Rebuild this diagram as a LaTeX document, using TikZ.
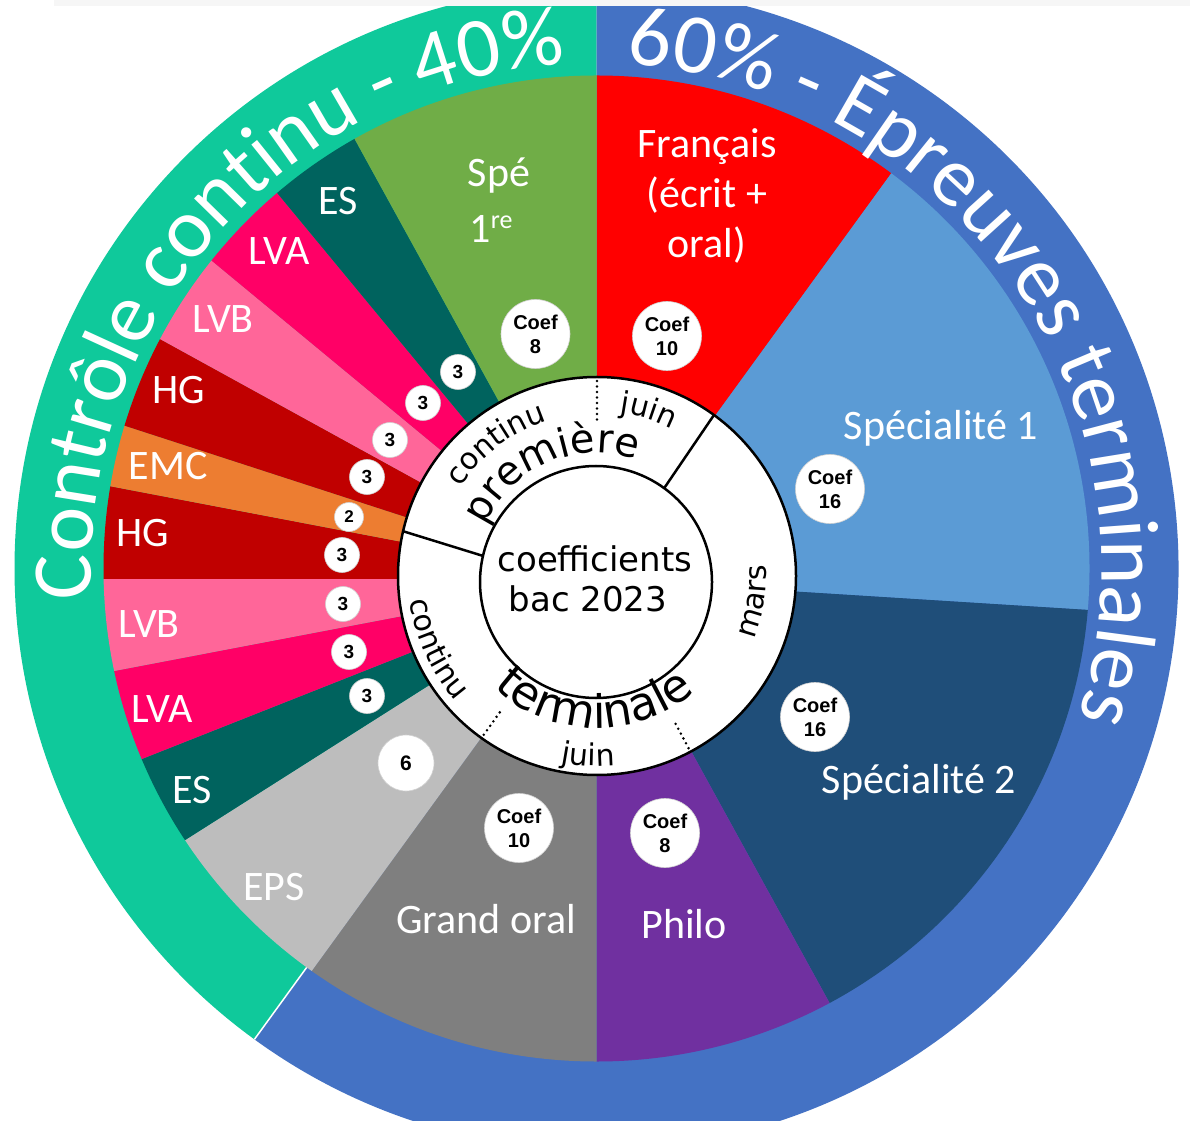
\documentclass[tikz,border=0pt]{standalone}
\usepackage{fontspec}
\setmainfont{Carlito}
\newfontfamily\dvfont{DejaVu Sans}
\newfontfamily\arialfont{Liberation Sans}
\usetikzlibrary{calc,decorations.text}
\definecolor{ringgreen}{HTML}{0FC99B}
\definecolor{ringblue}{HTML}{4472C4}
\definecolor{cFr}{HTML}{FF0000}
\definecolor{cSpA}{HTML}{5B9BD5}
\definecolor{cSpB}{HTML}{1F4E79}
\definecolor{cPhi}{HTML}{7030A0}
\definecolor{cGO}{HTML}{7F7F7F}
\definecolor{cEPS}{HTML}{BDBDBD}
\definecolor{cES}{HTML}{00635E}
\definecolor{cLVA}{HTML}{FF0066}
\definecolor{cLVB}{HTML}{FF6699}
\definecolor{cHG}{HTML}{C00000}
\definecolor{cEMC}{HTML}{ED7D31}
\definecolor{cSpe}{HTML}{70AD47}
\newcommand\mywedge[3]{\fill[#1] (A) -- ($(A)+(#2:800)$) arc[start angle=#2,end angle=#3,radius=800] -- cycle;}
\newcommand\ringfont{\fontsize{85}{85}\selectfont\color{white}}
\newcommand\smallarc{\dvfont\fontsize{30}{30}\selectfont}
\tikzset{
  lab/.style={text=white, font=\fontsize{42}{50}\selectfont, anchor=base, inner sep=0pt},
  coef/.style={circle, fill=white, draw=gray!35, line width=0.6pt, minimum size=69pt, inner sep=0pt, align=center, font=\arialfont\bfseries\fontsize{20}{24}\selectfont},
  num/.style={circle, fill=white, draw=gray!35, line width=0.6pt, minimum size=35pt, inner sep=0pt, font=\arialfont\bfseries\fontsize{19}{19}\selectfont},
  ringline/.style={line width=2.5pt},
  dotline/.style={line width=2.8pt, line cap=round, dash pattern=on 0pt off 5.5pt},
  centertext/.style={text=black, font=\dvfont\fontsize{34}{40}\selectfont, anchor=base, inner sep=0pt}
}
\begin{document}
\begin{tikzpicture}[x=1pt,y=1pt]
\useasboundingbox (0,0) rectangle (1190,1120);
\clip (0,0) rectangle (1190,1120);
\fill[white] (0,0) rectangle (1190,1120);

\coordinate (O) at (596.5,551.5);
\coordinate (A) at (596.5,541);
\coordinate (W) at (597,544);
\coordinate (I) at (596,538);

% outer ring
\fill[ringgreen] (O) -- ++(90:582) arc[start angle=90,end angle=234,radius=582] -- cycle;
\fill[ringblue] (O) -- ++(234:582) arc[start angle=234,end angle=450,radius=582] -- cycle;
\draw[white, line width=1.5pt] ($(O)+(234:493)$) -- ($(O)+(234:582)$);

% pie wedges
\begin{scope}
\clip (O) circle[radius=493];
\mywedge{cFr}{90}{54}
\mywedge{cSpA}{54}{-3.6}
\mywedge{cSpB}{-3.6}{-61.2}
\mywedge{cPhi}{-61.2}{-90}
\mywedge{cGO}{-90}{-126}
\mywedge{cEPS}{-126}{-147.6}
\mywedge{cES}{-147.6}{-158.4}
\mywedge{cLVA}{-158.4}{-169.2}
\mywedge{cLVB}{-169.2}{-180}
\mywedge{cHG}{-180}{-190.8}
\mywedge{cEMC}{-190.8}{-198}
\mywedge{cHG}{-198}{-208.8}
\mywedge{cLVB}{-208.8}{-219.6}
\mywedge{cLVA}{-219.6}{-230.4}
\mywedge{cES}{-230.4}{-241.2}
\mywedge{cSpe}{-241.2}{-270}
\end{scope}

% top strip
\fill[gray!7] (54,1114) rectangle (1190,1120);

% ring texts
\path[decorate, decoration={text along path, text={|\ringfont|Contrôle continu - 40{\%}}, text align=left}]
  ($(O)+(183.5:505)$) arc[start angle=183.5,end angle=40,radius=505];
\path[decorate, decoration={text along path, text={|\ringfont|60{\%} - Épreuves terminales}, text align=left}]
  ($(O)+(86.6:505)$) arc[start angle=86.6,end angle=-60,radius=505];

% wedge labels
\node[lab] (spe) at (499,933) {Spé};
\node[lab] (spe1) at (491,877) {1\raisebox{14pt}{\fontsize{26}{26}\selectfont re}};
\node[lab] (fr1) at (707,962) {Français};
\node[lab] (fr2) at (707,912) {(écrit +};
\node[lab] (fr3) at (707,862) {oral)};
\node[lab] (sp1) at (941,680) {Spécialité 1};
\node[lab] (sp2) at (919,327) {Spécialité 2};
\node[lab] (philo) at (684,182) {Philo};
\node[lab] (go) at (486,187) {Grand oral};
\node[lab] (eps) at (274,220) {EPS};
\node[lab] (es2) at (192,317) {ES};
\node[lab] (lva2) at (162,398) {LVA};
\node[lab] (lvb2) at (149,483) {LVB};
\node[lab] (hg2) at (143,573) {HG};
\node[lab] (emc) at (168,640) {EMC};
\node[lab] (hg1) at (179,716) {HG};
\node[lab] (lvb1) at (223,787) {LVB};
\node[lab] (lva1) at (279,855) {LVA};
\node[lab] (es1) at (338,905) {ES};

% coefficient badges
\node[coef] (kspe) at (535.5,786) {Coef\\8};
\node[coef] (kfr) at (667,784) {Coef\\10};
\node[coef] (ksp1) at (830,631) {Coef\\16};
\node[coef] (ksp2) at (815,403) {Coef\\16};
\node[coef] (kphi) at (665,287) {Coef\\8};
\node[coef] (kgo) at (519,292) {Coef\\10};
\node[num] (kes1) at (458,748) {3};
\node[num] (klva1) at (423,717) {3};
\node[num] (klvb1) at (390,680) {3};
\node[num] (khg1) at (367,643) {3};
\node[num, minimum size=29pt, font=\arialfont\bfseries\fontsize{17}{17}\selectfont] (kemc) at (349,603) {2};
\node[num] (khg2) at (342,565) {3};
\node[num] (klvb2) at (343,516) {3};
\node[num] (klva2) at (349,468) {3};
\node[num] (kes2) at (367,424) {3};
\node[num, minimum size=56pt, font=\arialfont\bfseries\fontsize{21}{21}\selectfont] (keps) at (406,357) {6};

% central rings
\fill[white] (W) circle[radius=199];
\draw[ringline] (W) circle[radius=199];
\draw[ringline] (I) circle[radius=116];
\draw[ringline] ($(W)+(54:199)$) -- ($(I)+(54:116)$);
\draw[ringline] ($(W)+(167:199)$) -- ($(I)+(167:116)$);
\draw[dotline] ($(W)+(90:195)$) -- ($(W)+(90:152)$);
\draw[dotline] ($(W)+(234.5:195)$) -- ($(W)+(234.5:164)$);
\draw[dotline] ($(W)+(-62:195)$) -- ($(W)+(-62:167)$);

\node[centertext] (coefs) at (595,548) {coefficients};
\node[centertext] (bac) at (588,508) {bac 2023};

\path[decorate, decoration={text along path, text={|\dvfont\fontsize{40}{40}\selectfont|première}, text align=left}]
  ($(W)+(156:123)$) arc[start angle=156,end angle=20,radius=123];
\path[decorate, decoration={text along path, text={|\smallarc|continu}, text align=left}]
  ($(W)+(147:163)$) arc[start angle=147,end angle=60,radius=163];
\path[decorate, decoration={text along path, text={|\smallarc|juin}, text align=left}]
  ($(W)+(82:165)$) arc[start angle=82,end angle=20,radius=165];
\path[decorate, decoration={text along path, text={|\smallarc|mars}, text align=left}]
  ($(W)+(-22:169)$) arc[start angle=-22,end angle=40,radius=169];
\path[decorate, decoration={text along path, text={|\smallarc|continu}, text align=left}]
  ($(W)+(187.5:189)$) arc[start angle=187.5,end angle=260,radius=189];
\path[decorate, decoration={text along path, text={|\dvfont\fontsize{46}{46}\selectfont|terminale}, text align=left}]
  ($(W)+(227:152)$) arc[start angle=227,end angle=340,radius=152];
\path[decorate, decoration={text along path, text={|\smallarc|juin}, text align=left}]
  ($(W)+(259:190)$) arc[start angle=259,end angle=310,radius=190];
\end{tikzpicture}
\end{document}
